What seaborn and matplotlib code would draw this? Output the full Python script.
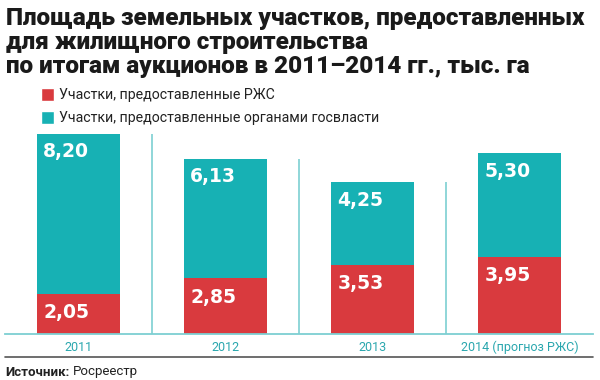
import matplotlib
matplotlib.use("Agg")
import matplotlib.pyplot as plt
import seaborn as sns
import pandas as pd
from matplotlib.patches import Patch
from matplotlib.lines import Line2D

# data (тыс. га)
years = ["2011", "2012", "2013", "2014 (прогноз РЖС)"]
rzhs = [2.05, 2.85, 3.53, 3.95]
gov = [8.20, 6.13, 4.25, 5.30]

RED = "#D93A3E"
TEAL = "#17B1B4"
LIGHT_TEAL = "#7DCFD2"
TICK_TEAL = "#2AA7AE"

sns.set_theme(style="white")
plt.rcParams["font.family"] = ["Roboto", "DejaVu Sans"]

df = pd.DataFrame({"year": years, "rzhs": rzhs, "gov": gov})
df["total"] = df["rzhs"] + df["gov"]

fig = plt.figure(figsize=(6, 3.8), dpi=100)
ax = fig.add_axes([5 / 600, 46 / 380, 588 / 600, 204 / 380])

bw = 0.565
sns.barplot(data=df, x="year", y="total", color=TEAL, saturation=1,
            width=bw, linewidth=0, ax=ax)
sns.barplot(data=df, x="year", y="rzhs", color=RED, saturation=1,
            width=bw, linewidth=0, ax=ax)

# dividers between columns, as tall as the bar on their left
ax.vlines([i + 0.5 for i in range(len(years) - 1)], 0, df["total"][:-1],
          color=LIGHT_TEAL, lw=1.2)

for i in range(len(years)):
    left = i - bw / 2
    ax.annotate(f"{df['gov'][i]:.2f}".replace(".", ","), (left, df["total"][i]),
                xytext=(4.5, -13), textcoords="offset points",
                ha="left", va="center", color="white",
                fontsize=13.5, fontweight="bold", family="DejaVu Sans")
    ax.annotate(f"{df['rzhs'][i]:.2f}".replace(".", ","), (left, df["rzhs"][i]),
                xytext=(4.5, -13.5), textcoords="offset points",
                ha="left", va="center", color="white",
                fontsize=13.5, fontweight="bold", family="DejaVu Sans")

ax.set_xlim(-0.5, 3.5)
ax.set_ylim(0, 10.45)
ax.set_xlabel("")
ax.set_ylabel("")
ax.set_yticks([])
ax.tick_params(axis="x", length=0, pad=5, labelsize=9, labelcolor=TICK_TEAL)
for s in ["top", "right", "left"]:
    ax.spines[s].set_visible(False)
ax.spines["bottom"].set_color(LIGHT_TEAL)
ax.spines["bottom"].set_linewidth(1.3)

title_lines = ["Площадь земельных участков, предоставленных",
               "для жилищного строительства",
               "по итогам аукционов в 2011–2014 гг., тыс. га"]
for k, line in enumerate(title_lines):
    fig.text(6 / 600, 1 - (18 + 24 * k) / 380, line, ha="left", va="center",
             fontsize=17.5, fontweight="black", family="Roboto",
             color="#1a1a1a")

handles = [Patch(facecolor=RED, label="Участки, предоставленные РЖС"),
           Patch(facecolor=TEAL, label="Участки, предоставленные органами госвласти")]
fig.legend(handles=handles, loc="upper left",
           bbox_to_anchor=(35 / 600, 1 - 82 / 380), frameon=False,
           fontsize=10.2, handlelength=0.95, handleheight=1.1,
           handletextpad=0.35, labelspacing=0.6, borderaxespad=0,
           labelcolor="#222222")

fig.add_artist(Line2D([5 / 600, 593 / 600], [1 - 357 / 380, 1 - 357 / 380],
                      color="#555555", lw=1.2))
src = fig.text(5 / 600, 1 - 372 / 380, "Источник:", ha="left", va="center",
               fontsize=9.5, fontweight="bold", color="#222222")
fig.canvas.draw()
bb = src.get_window_extent().transformed(fig.transFigure.inverted())
fig.text(bb.x1 + 3 / 600, 1 - 372 / 380, "Росреестр", ha="left", va="center",
         fontsize=9.5, color="#222222")

fig.savefig("out.png", dpi=100)
